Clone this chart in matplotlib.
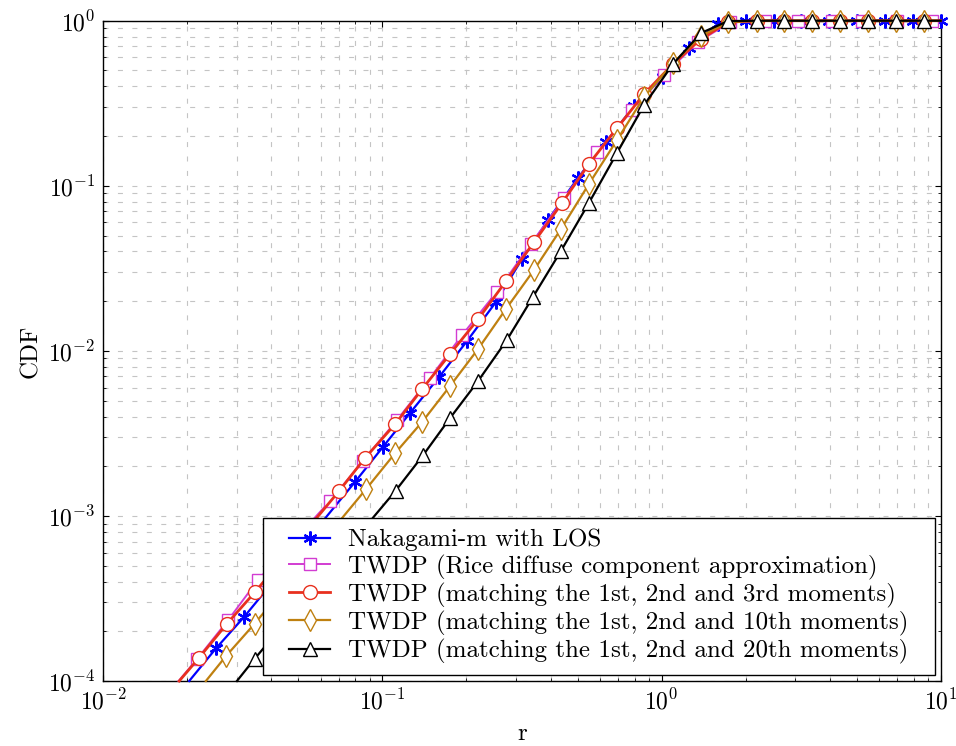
import matplotlib
matplotlib.use("Agg")
import matplotlib.pyplot as plt
from matplotlib.path import Path
from matplotlib.ticker import LogLocator, NullFormatter

plt.rcParams['font.family'] = ['cmr10', 'DejaVu Serif']
plt.rcParams['mathtext.fontset'] = 'cm'
plt.rcParams['axes.formatter.use_mathtext'] = True

# CDF curves (r, CDF)
nak_r = [0.0203, 0.02535, 0.0319, 0.0798, 0.1004, 0.1256, 0.1596, 0.201, 0.255,
         0.316, 0.392, 0.501, 0.632, 0.796, 1.01, 1.253, 1.59, 2.00, 2.52, 3.17,
         3.99, 5.02, 6.32, 7.96, 10.0]
nak_cdf = [1.0e-4, 1.58e-4, 2.44e-4, 1.61e-3, 2.62e-3, 4.21e-3, 6.95e-3, 0.01148,
           0.01977, 0.0360, 0.0620, 0.1114, 0.184, 0.304, 0.456, 0.684, 0.955,
           1.0, 1.0, 1.0, 1.0, 1.0, 1.0, 1.0, 1.0]

rice_r = [0.0186, 0.02168, 0.0280, 0.0358, 0.0648, 0.0851, 0.1127, 0.148, 0.193,
          0.257, 0.340, 0.448, 0.588, 0.784, 1.02, 1.35, 1.76, 2.35, 3.08, 4.08,
          5.22, 6.97, 9.29, 10.0]
rice_cdf = [1.0e-4, 1.36e-4, 2.34e-4, 4.09e-4, 1.23e-3, 2.15e-3, 3.81e-3, 6.85e-3,
            0.01248, 0.0228, 0.0444, 0.0843, 0.160, 0.288, 0.469, 0.743, 0.98,
            1.0, 1.0, 1.0, 1.0, 1.0, 1.0, 1.0]

m3_r = [0.0187, 0.0220, 0.0277, 0.0350, 0.0700, 0.0865, 0.111, 0.1387, 0.1746,
        0.2203, 0.2773, 0.349, 0.440, 0.549, 0.693, 0.865, 1.099, 1.383, 1.73,
        2.20, 2.75, 3.46, 4.36, 5.49, 6.92, 8.71, 10.0]
m3_cdf = [1.0e-4, 1.38e-4, 2.22e-4, 3.47e-4, 1.42e-3, 2.24e-3, 3.60e-3, 5.87e-3,
          9.57e-3, 0.01559, 0.0265, 0.0456, 0.0787, 0.1355, 0.224, 0.360, 0.547,
          0.775, 0.98, 1.0, 1.0, 1.0, 1.0, 1.0, 1.0, 1.0, 1.0]

m10_r = [0.0233, 0.02754, 0.0348, 0.0875, 0.111, 0.1387, 0.1746, 0.220, 0.277,
         0.349, 0.436, 0.549, 0.692, 0.865, 1.099, 1.383, 1.73, 2.20, 2.75, 3.46,
         4.36, 5.49, 6.92, 8.71, 10.0]
m10_cdf = [1.0e-4, 1.42e-4, 2.22e-4, 1.46e-3, 2.40e-3, 3.71e-3, 6.12e-3, 0.01026,
           0.01795, 0.0309, 0.0547, 0.1025, 0.189, 0.345, 0.554, 0.808, 0.98,
           1.0, 1.0, 1.0, 1.0, 1.0, 1.0, 1.0, 1.0]

m20_r = [0.0301, 0.0348, 0.1114, 0.140, 0.1747, 0.220, 0.279, 0.346, 0.436, 0.549,
         0.692, 0.865, 1.099, 1.383, 1.73, 2.20, 2.75, 3.46, 4.36, 5.49, 6.92,
         8.71, 10.0]
m20_cdf = [1.0e-4, 1.36e-4, 1.42e-3, 2.34e-3, 3.92e-3, 6.56e-3, 0.01163, 0.0212,
           0.0403, 0.0787, 0.158, 0.308, 0.547, 0.842, 0.995, 1.0, 1.0, 1.0, 1.0,
           1.0, 1.0, 1.0, 1.0]

labels = [
    "Nakagami-m with LOS",
    "TWDP (Rice diffuse component approximation)",
    "TWDP (matching the 1st, 2nd and 3rd moments)",
    "TWDP (matching the 1st, 2nd and 10th moments)",
    "TWDP (matching the 1st, 2nd and 20th moments)",
]

FS = 18
TICK_FS = 17


def wide_frame(x0, y0, width, height, mutation_size):
    """Rectangular legend frame with extra horizontal padding."""
    dx = 0.6 * mutation_size
    x1, y1 = x0 + width + dx, y0 + height
    x0 = x0 - dx
    return Path([(x0, y0), (x1, y0), (x1, y1), (x0, y1), (x0, y0)],
                closed=True)


fig = plt.figure(figsize=(9.56, 7.46), dpi=100)
ax = fig.add_axes([0.1081, 0.0871, 0.8759, 0.8851])
ax.set_xscale('log')
ax.set_yscale('log')
ax.set_xlim(1e-2, 1e1)
ax.set_ylim(1e-4, 1e0)

asterisk = (6, 2, 0)
common = dict(clip_on=False, markerfacecolor='white', markeredgewidth=1.0)

ax.plot(nak_r, nak_cdf, color='#0000ff', lw=1.6, marker=asterisk, ms=10,
        markeredgewidth=1.6, markeredgecolor='#0000ff', clip_on=False,
        markevery=slice(1, None), label=labels[0], zorder=3)
ax.plot(rice_r, rice_cdf, color='#d23cd2', lw=1.4, marker='s', ms=8.5,
        markeredgecolor='#d23cd2', markevery=slice(1, -1), label=labels[1],
        zorder=4, **common)
ax.plot(m3_r, m3_cdf, color='#e8301e', lw=2.0, marker='o', ms=10,
        markeredgecolor='#e8301e', markevery=slice(1, -1), label=labels[2],
        zorder=5, **common)
ax.plot(m10_r, m10_cdf, color='#bf8010', lw=1.6, marker='d', ms=11,
        markeredgecolor='#bf8010', markevery=slice(1, -1), label=labels[3],
        zorder=6, **common)
ax.plot(m20_r, m20_cdf, color='black', lw=1.6, marker='^', ms=10,
        markeredgecolor='black', markevery=slice(1, -1), label=labels[4],
        zorder=7, **common)

ax.xaxis.set_major_locator(LogLocator(base=10, numticks=10))
ax.yaxis.set_major_locator(LogLocator(base=10, numticks=10))
ax.xaxis.set_minor_locator(LogLocator(base=10, subs=range(2, 10), numticks=20))
ax.yaxis.set_minor_locator(LogLocator(base=10, subs=range(2, 10), numticks=20))
ax.xaxis.set_minor_formatter(NullFormatter())
ax.yaxis.set_minor_formatter(NullFormatter())

grid_kw = dict(color='#c4c4c4', linewidth=0.8, linestyle=(0, (4.5, 8.5)))
ax.grid(True, which='major', **grid_kw)
ax.grid(True, which='minor', **grid_kw)
ax.set_axisbelow(True)

ax.tick_params(which='both', direction='in', top=True, right=True,
               labelsize=TICK_FS, pad=6)
ax.tick_params(which='major', length=4, width=0.8)
ax.tick_params(which='minor', length=2, width=0.6)
for s in ax.spines.values():
    s.set_linewidth(1.0)

ax.set_xlabel('r', fontsize=FS, labelpad=6)
ax.set_ylabel('CDF', fontsize=FS, labelpad=4)

leg = ax.legend(loc='lower right', bbox_to_anchor=(0.975, 0.009),
                fontsize=FS, frameon=True, fancybox=False, framealpha=1,
                edgecolor='black', handlelength=1.64, handletextpad=0.72,
                labelspacing=0.12, borderpad=0.45, borderaxespad=0)
leg.get_frame().set_linewidth(1.0)
leg.get_frame().set_boxstyle(wide_frame)
leg.set_zorder(10)

fig.savefig('out.png', dpi=100)
